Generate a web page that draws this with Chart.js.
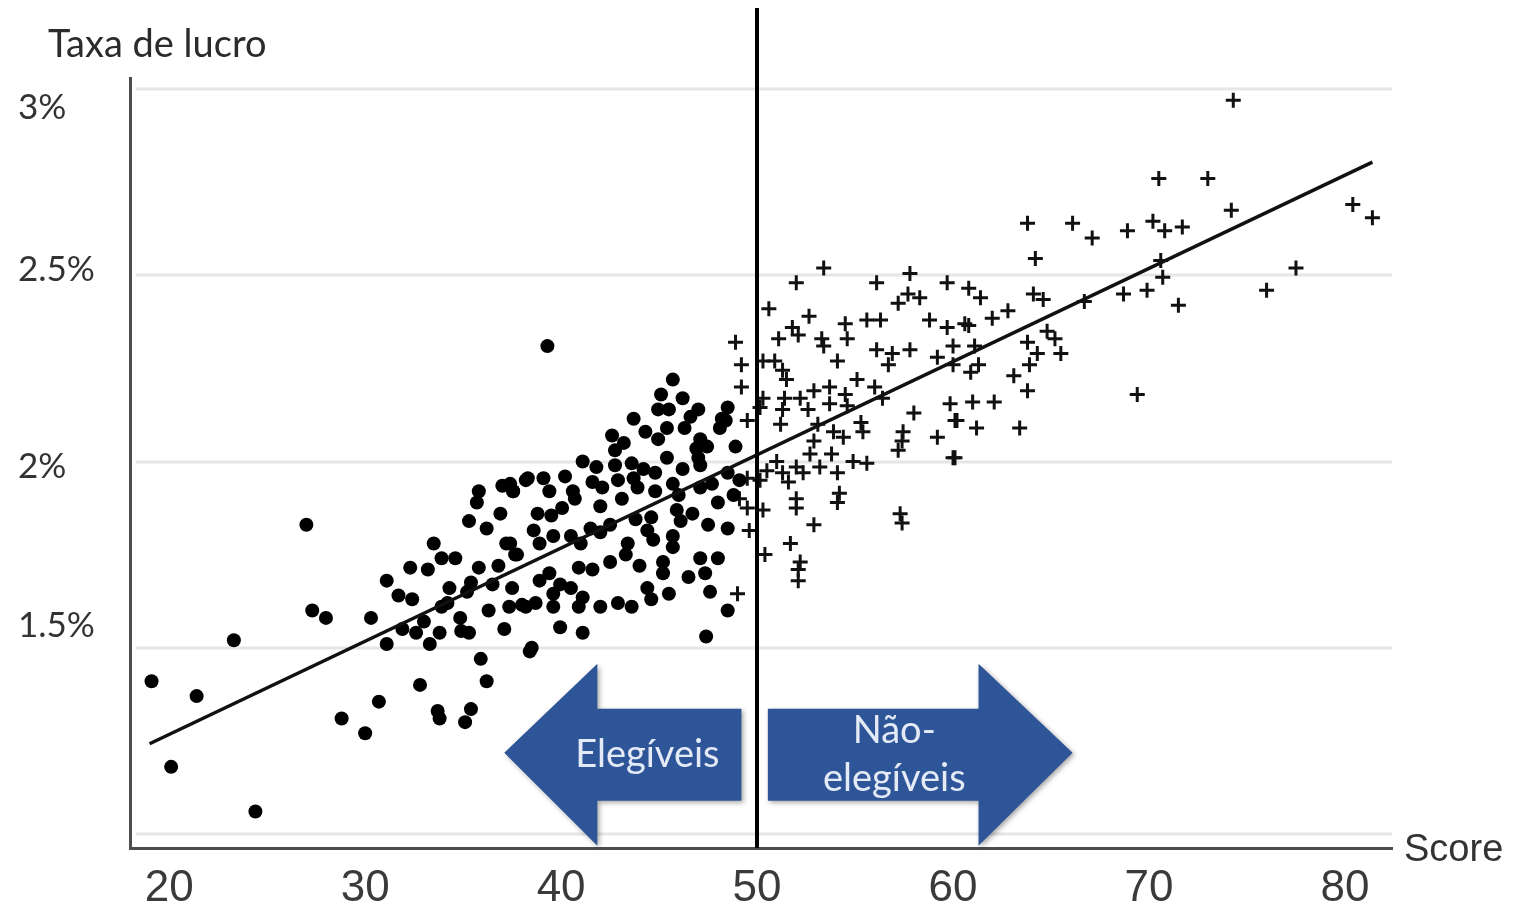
<!DOCTYPE html>
<html lang="pt">
<head>
<meta charset="utf-8">
<title>Taxa de lucro x Score</title>
<script src="https://cdn.jsdelivr.net/npm/chart.js@4.4.0/dist/chart.umd.min.js"></script>
<style>
  html, body { margin: 0; padding: 0; background: #fff; }
  #wrap { width: 1516px; height: 908px; }
</style>
</head>
<body>
<div id="wrap"><canvas id="scoreChart"></canvas></div>
<script>
// eixos
const xTicks = [20, 30, 40, 50, 60, 70, 80];
const yGrid = [1, 1.5, 2, 2.5, 3];
const yTickLabels = ['3%', '2.5%', '2%', '1.5%'];
const yTickPos = [2.95, 2.515, 1.985, 1.56];
const cutoff = 50;

// reta de tendencia (pontas)
const trend = [[19.0, 1.242], [81.4, 2.804]];

// [score, taxa de lucro %]
const eligible = [
  [19.1,1.41],[20.1,1.18],[21.4,1.37],[23.3,1.52],[24.4,1.06],[27.0,1.83],[27.3,1.60],[28.0,1.58],[28.8,1.31],[30.0,1.27],
  [30.3,1.58],[30.7,1.355],[31.1,1.68],[31.1,1.51],[31.7,1.64],[32.3,1.715],[33.2,1.71],[33.5,1.78],[33.9,1.74],[31.9,1.55],
  [32.6,1.54],[33.0,1.57],[33.3,1.51],[33.8,1.54],[33.9,1.61],[34.3,1.66],[34.85,1.58],[34.9,1.545],[35.3,1.54],[35.2,1.65],
  [35.4,1.675],[35.8,1.715],[35.3,1.84],[36.2,1.82],[35.8,1.92],[35.7,1.89],[36.5,1.67],[37.0,1.935],[37.55,1.92],[38.2,1.95],
  [37.4,1.78],[37.75,1.75],[37.5,1.66],[37.35,1.61],[38.0,1.615],[37.1,1.55],[35.9,1.47],[36.2,1.41],[32.8,1.40],[33.7,1.33],
  [33.8,1.31],[35.4,1.335],[35.1,1.30],[39.3,2.31],[38.4,1.49],[47.4,1.53],
  [45.7,2.22],[45.1,2.18],[46.2,2.17],[44.95,2.14],[45.5,2.14],[47.0,2.14],[48.5,2.145],[43.7,2.115],[44.3,2.08],[45.4,2.09],
  [44.95,2.06],[46.3,2.09],[48.1,2.09],[48.4,2.11],[42.6,2.07],[42.75,2.03],[47.1,2.06],[46.9,2.035],[47.45,2.04],[47.0,2.01],
  [46.2,1.98],[47.1,1.99],[41.1,2.00],[41.8,1.985],[42.75,1.99],[43.6,1.995],[44.2,1.98],[41.6,1.945],[42.1,1.93],[42.9,1.95],
  [43.7,1.955],[45.4,2.01],[44.8,1.97],[44.8,1.92],[45.7,1.94],[47.1,1.93],[48.5,1.97],[48.8,1.91],[38.3,1.955],[39.1,1.955],
  [39.4,1.92],[40.6,1.92],[40.7,1.90],[42.0,1.88],[43.1,1.90],[37.4,1.94],[37.55,1.92],[38.8,1.86],[39.5,1.855],[40.05,1.875],
  [43.8,1.845],[44.6,1.85],[45.9,1.87],[46.1,1.84],[46.7,1.86],[48.0,1.89],[47.5,1.83],[48.5,1.82],[42.5,1.83],[42.0,1.81],
  [44.4,1.815],[44.7,1.79],[45.7,1.80],[45.7,1.77],[37.2,1.78],[37.65,1.75],[38.6,1.815],[38.9,1.78],[39.6,1.80],[40.5,1.80],
  [41.0,1.78],[43.4,1.78],[43.3,1.75],[42.5,1.73],[45.2,1.73],[45.2,1.70],[47.1,1.74],[48.0,1.74],[47.35,1.70],[47.6,1.65],
  [40.9,1.715],[39.4,1.70],[39.95,1.67],[40.5,1.66],[39.6,1.645],[41.1,1.635],[38.2,1.61],[38.7,1.62],[39.6,1.61],[40.9,1.61],
  [42.0,1.61],[42.9,1.62],[43.6,1.61],[44.4,1.66],[44.6,1.63],[45.5,1.645],[48.5,1.60],[39.95,1.555],[41.1,1.54],[38.5,1.50],
  [48.2,2.115],[49.1,1.95],[47.7,1.94],[46.6,2.12],[43.2,2.05],[40.2,1.96],[36.9,1.86],[34.6,1.74],[36.8,1.72],[41.6,1.71],
  [44.0,1.72],[46.5,1.69],[38.9,1.68],[41.5,1.82],[43.9,1.93],[46.0,1.91],[48.9,2.04],[36.3,1.60],[34.2,1.62],[32.4,1.63]
];

const nonEligible = [
  [53.4,2.52],[52.0,2.48],[50.6,2.41],[52.65,2.39],[51.8,2.36],[52.1,2.34],[48.9,2.32],[51.1,2.33],[53.3,2.33],[53.4,2.31],
  [54.5,2.37],[54.6,2.33],[55.6,2.38],[56.3,2.38],[56.1,2.48],[57.8,2.505],[57.2,2.425],[57.7,2.45],[58.3,2.44],[59.7,2.48],
  [58.8,2.38],[59.7,2.36],[60.6,2.37],[56.1,2.30],[56.9,2.29],[57.8,2.30],[56.7,2.26],[59.2,2.28],[60.0,2.26],[49.2,2.26],
  [50.3,2.27],[50.9,2.27],[54.1,2.27],[51.3,2.245],[51.5,2.22],[49.2,2.20],[55.1,2.22],[52.9,2.19],[53.7,2.20],[54.5,2.18],
  [56.0,2.20],[56.4,2.17],[50.3,2.17],[51.4,2.17],[52.2,2.17],[51.3,2.14],[52.6,2.14],[53.7,2.155],[54.6,2.15],[50.15,2.145],
  [51.2,2.10],[49.5,2.11],[55.3,2.105],[55.4,2.08],[53.1,2.10],[53.9,2.08],[54.4,2.065],[52.9,2.055],[58.0,2.13],[57.45,2.08],
  [57.4,2.055],[57.2,2.03],[59.85,2.155],[60.2,2.11],[59.2,2.065],[60.0,2.01],[51.0,2.00],[52.7,2.02],[53.2,1.985],[53.8,2.02],
  [54.9,2.00],[55.6,1.995],[50.5,1.975],[51.3,1.97],[52.0,1.985],[51.6,1.945],[52.35,1.97],[54.1,1.97],[50.15,1.95],[49.5,1.955],
  [52.0,1.90],[52.0,1.875],[54.2,1.915],[54.1,1.89],[50.3,1.87],[49.5,1.875],[49.1,1.90],[49.6,1.815],[57.3,1.86],[57.4,1.835],
  [52.9,1.83],[51.7,1.78],[50.4,1.75],[52.2,1.73],[52.1,1.71],[52.1,1.68],[49.0,1.645],
  [63.8,2.64],[66.1,2.64],[67.1,2.60],[68.9,2.62],[70.2,2.645],[70.8,2.62],[71.7,2.63],[64.2,2.545],[70.6,2.54],[70.7,2.495],
  [60.8,2.465],[61.4,2.44],[64.1,2.45],[64.6,2.435],[68.7,2.45],[69.9,2.46],[71.5,2.42],[66.7,2.43],[62.8,2.405],[62.0,2.385],
  [60.8,2.365],[64.8,2.35],[65.2,2.33],[63.8,2.32],[64.3,2.29],[65.5,2.29],[61.1,2.31],[60.0,2.31],[61.3,2.26],[60.9,2.24],
  [63.9,2.26],[63.1,2.23],[63.8,2.19],[61.0,2.16],[62.1,2.16],[69.4,2.18],[63.4,2.09],[61.2,2.09],[60.1,2.11],[60.1,2.01],
  [74.3,2.97],[70.5,2.76],[73.0,2.76],[74.2,2.675],[80.4,2.69],[81.4,2.655],[77.5,2.52],[76.0,2.46]
];

// setas (coordenadas em unidades dos eixos)
const arrowBand = { mid: 1.218, shaftTop: 1.336, shaftBottom: 1.089, headTop: 1.457, headBottom: 0.968 };
const arrowShapes = [
  { tip: 37.1, neck: 41.85, tail: 49.2, text: [['Elegíveis', 44.4, 1.212]] },
  { tip: 66.1, neck: 61.3, tail: 50.55, text: [['Não-', 57.0, 1.277], ['elegíveis', 57.0, 1.148]] }
];

const toXY = arr => arr.map(([x, y]) => ({ x, y }));

const extras = {
  id: 'extras',
  beforeDatasetsDraw(chart) {
    const { ctx, chartArea, scales: { y } } = chart;
    ctx.save();
    ctx.strokeStyle = '#e6e6e6';
    ctx.lineWidth = 3;
    yGrid.forEach(v => {
      const py = Math.round(y.getPixelForValue(v));
      ctx.beginPath();
      ctx.moveTo(chartArea.left + 6, py);
      ctx.lineTo(chartArea.right, py);
      ctx.stroke();
    });
    ctx.restore();
  },
  afterDatasetsDraw(chart) {
    const { ctx, chartArea, scales: { x, y } } = chart;
    ctx.save();
    arrowShapes.forEach(a => {
      const px = v => x.getPixelForValue(v);
      const py = v => y.getPixelForValue(v);
      ctx.save();
      ctx.shadowColor = 'rgba(0,0,0,0.35)';
      ctx.shadowBlur = 5;
      ctx.shadowOffsetX = 2;
      ctx.shadowOffsetY = 2;
      ctx.fillStyle = '#2e5598';
      ctx.beginPath();
      ctx.moveTo(px(a.tail), py(arrowBand.shaftTop));
      ctx.lineTo(px(a.neck), py(arrowBand.shaftTop));
      ctx.lineTo(px(a.neck), py(arrowBand.headTop));
      ctx.lineTo(px(a.tip), py(arrowBand.mid));
      ctx.lineTo(px(a.neck), py(arrowBand.headBottom));
      ctx.lineTo(px(a.neck), py(arrowBand.shaftBottom));
      ctx.lineTo(px(a.tail), py(arrowBand.shaftBottom));
      ctx.closePath();
      ctx.fill();
      ctx.restore();
      ctx.fillStyle = '#e4ebf7';
      ctx.font = '38px Lato';
      ctx.textAlign = 'center';
      ctx.textBaseline = 'middle';
      a.text.forEach(([t, tx, ty]) => ctx.fillText(t, px(tx), py(ty)));
    });
    // linha de corte
    const cx = Math.round(x.getPixelForValue(cutoff));
    ctx.strokeStyle = '#000';
    ctx.lineWidth = 4;
    ctx.beginPath();
    ctx.moveTo(cx, 8);
    ctx.lineTo(cx, chartArea.bottom);
    ctx.stroke();
    ctx.restore();
  },
  afterDraw(chart) {
    const { ctx } = chart;
    ctx.save();
    ctx.fillStyle = '#2b2b2b';
    ctx.textBaseline = 'alphabetic';
    ctx.textAlign = 'left';
    ctx.font = '38px Lato';
    ctx.fillText('Taxa de lucro', 48, 57);
    ctx.font = '38px "Liberation Sans"';
    ctx.fillStyle = '#333';
    ctx.fillText('Score', 1404, 861);
    ctx.restore();
  }
};

new Chart(document.getElementById('scoreChart'), {
  type: 'scatter',
  data: {
    datasets: [
      {
        type: 'line',
        label: 'Tendência',
        data: toXY(trend),
        borderColor: '#111',
        borderWidth: 3.5,
        pointRadius: 0,
        showLine: true,
        fill: false,
        order: 0
      },
      {
        label: 'Elegíveis',
        data: toXY(eligible),
        pointStyle: 'circle',
        pointRadius: 7,
        backgroundColor: '#000',
        borderWidth: 0,
        order: 1
      },
      {
        label: 'Não-elegíveis',
        data: toXY(nonEligible),
        pointStyle: 'cross',
        pointRadius: 7.5,
        borderColor: '#111',
        borderWidth: 3,
        order: 1
      }
    ]
  },
  options: {
    responsive: true,
    maintainAspectRatio: false,
    animation: false,
    layout: { padding: { left: 18, top: 78, right: 124, bottom: 0 } },
    plugins: {
      legend: { display: false },
      tooltip: { enabled: false }
    },
    scales: {
      x: {
        type: 'linear',
        min: 18,
        max: 82.4,
        afterBuildTicks: s => { s.ticks = xTicks.map(v => ({ value: v })); },
        afterFit: s => { s.height = 60; },
        grid: { display: false, drawTicks: false },
        border: { display: true, color: '#4d4d4d', width: 3 },
        ticks: {
          autoSkip: false,
          maxRotation: 0,
          padding: 14,
          color: '#3a3a3a',
          font: { family: 'Liberation Sans', size: 44 }
        }
      },
      y: {
        type: 'linear',
        min: 0.962,
        max: 3.03,
        afterBuildTicks: s => { s.ticks = yTickPos.map(v => ({ value: v })); },
        afterFit: s => { s.width = 112; },
        grid: { display: false, drawTicks: false },
        border: { display: true, color: '#4d4d4d', width: 3 },
        ticks: {
          crossAlign: 'far',
          color: '#333',
          font: { family: 'Lato', size: 35 },
          callback: (v, i) => yTickLabels[i]
        }
      }
    }
  },
  plugins: [extras]
});
</script>
</body>
</html>
